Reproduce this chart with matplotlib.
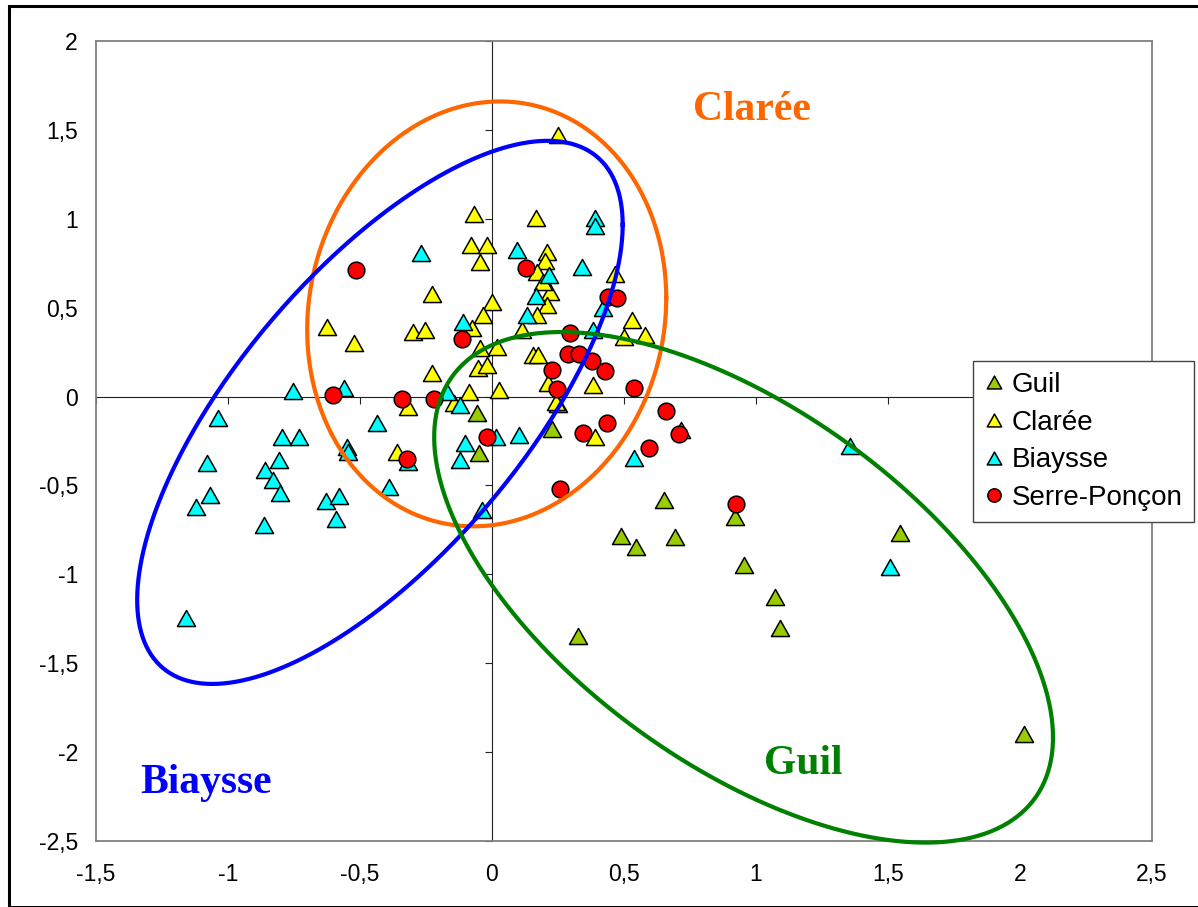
import numpy as np
import matplotlib.pyplot as plt
from matplotlib.path import Path
from matplotlib.patches import Rectangle

# coordonnées (axe 1, axe 2)
guil_x = [0.251, 0.226, -0.058, -0.05, 0.489, 0.545, 0.652, 0.693, 0.716, 0.920,
          0.955, 1.072, 1.091, 0.326, 1.545, 2.015]
guil_y = [-0.04, -0.18, -0.094, -0.32, -0.783, -0.845, -0.58, -0.79, -0.19, -0.68,
          -0.948, -1.13, -1.30, -1.346, -0.77, -1.9]

claree_x = [0.249, -0.067, 0.165, -0.080, -0.020, -0.045, 0.207, 0.20, 0.169, 0.22,
            0.194, 0.466, -0.226, 0.0, 0.207, 0.172, -0.035, 0.112, 0.529, 0.501,
            0.580, 0.018, 0.154, 0.176, 0.213, 0.384, 0.027, 0.242, 0.390, -0.626,
            -0.521, -0.298, -0.254, -0.077, -0.045, -0.052, -0.020, -0.226, -0.317,
            -0.143, -0.086, -0.361]
claree_y = [1.471, 1.025, 1.006, 0.853, 0.853, 0.759, 0.815, 0.76, 0.703, 0.59,
            0.646, 0.690, 0.575, 0.534, 0.515, 0.459, 0.459, 0.375, 0.431, 0.337,
            0.347, 0.281, 0.234, 0.234, 0.075, 0.065, 0.037, -0.029, -0.225, 0.393,
            0.30, 0.365, 0.375, 0.384, 0.272, 0.159, 0.178, 0.131, -0.057,
            -0.034, 0.028, -0.31]

biaysse_x = [-0.269, 0.390, 0.390, 0.096, 0.216, 0.340, 0.165, 0.131, 0.419, 0.381,
             0.104, 0.015, 0.538, -0.109, -0.753, -0.559, -0.169, -0.121, -0.437, -0.73,
             -0.548, -0.544, -0.102, -0.121, -1.039, -0.797, -1.081, -0.807, -0.860,
             -0.828, -0.803, -1.068, -1.122, -0.864, -1.159, -0.629, -0.58, -0.591,
             -0.39, -0.038, 1.356, 1.508, -0.317]
biaysse_y = [0.806, 1.006, 0.961, 0.825, 0.684, 0.731, 0.565, 0.459, 0.497, 0.375,
             -0.216, -0.225, -0.347, 0.421, 0.03, 0.047, 0.028, -0.047, -0.15, -0.225,
             -0.282, -0.31, -0.263, -0.357, -0.122, -0.225, -0.375, -0.357, -0.413,
             -0.469, -0.544, -0.553, -0.619, -0.722, -1.245, -0.59, -0.56, -0.69,
             -0.51, -0.64, -0.28, -0.96, -0.37]

serre_x = [-0.516, 0.128, 0.441, 0.472, 0.295, 0.289, 0.331, 0.380, 0.428, 0.226,
           0.245, 0.539, 0.659, 0.709, 0.434, 0.343, -0.020, 0.595, 0.258, 0.924,
           -0.113, -0.601, -0.342, -0.219, -0.321]
serre_y = [0.712, 0.722, 0.562, 0.553, 0.36, 0.238, 0.238, 0.20, 0.144, 0.15,
           0.041, 0.05, -0.081, -0.212, -0.147, -0.203, -0.225, -0.291, -0.52, -0.605,
           0.322, 0.009, -0.015, -0.015, -0.353]

# ellipses : centre et matrice (var x, var y, cov)
ell_claree = [(-0.02, 0.465), (0.68**2, 1.195**2, 0.06)]
ell_biaysse = [(-0.4245, -0.089), (0.9195**2, 1.5275**2, 0.97)]
ell_guil = [(0.953, -1.073), (1.172**2, 1.436**2, -0.99)]

xticks = [-1.5, -1, -0.5, 0, 0.5, 1, 1.5, 2, 2.5]
yticks = [-2.5, -2, -1.5, -1, -0.5, 0, 0.5, 1, 1.5, 2]


def fmt(v):
    s = ('%g' % v).replace('.', ',')
    return s


def ellipse_pts(center, cov):
    sxx, syy, sxy = cov
    L = np.linalg.cholesky(np.array([[sxx, sxy], [sxy, syy]]))
    t = np.linspace(0, 2 * np.pi, 400)
    pts = L @ np.vstack([np.cos(t), np.sin(t)])
    return pts[0] + center[0], pts[1] + center[1]


tri = Path([(0, 0.89), (-1, -0.89), (1, -0.89), (0, 0.89)],
           [Path.MOVETO, Path.LINETO, Path.LINETO, Path.CLOSEPOLY])

fig = plt.figure(figsize=(11.98, 9.07), dpi=100)
pos = [96 / 1198, 66 / 907, 1056 / 1198, 800 / 907]
ax = fig.add_axes(pos)
ax.set_xlim(-1.5, 2.5)
ax.set_ylim(-2.5, 2)
for sp in ax.spines.values():
    sp.set_color('#808080')
    sp.set_linewidth(1.3)
ax.set_xticks(xticks)
ax.set_yticks(yticks)
ax.set_xticklabels([fmt(v) for v in xticks])
ax.set_yticklabels([fmt(v) for v in yticks])
ax.tick_params(length=0, labelsize=16.5)
ax.tick_params(axis='x', pad=16)
ax.tick_params(axis='y', pad=13)
for lb in ax.get_xticklabels() + ax.get_yticklabels():
    lb.set_fontfamily('Liberation Sans')

# axes passant par l'origine
ax2 = fig.add_axes(pos, facecolor='none')
ax2.set_xlim(-1.5, 2.5)
ax2.set_ylim(-2.5, 2)
ax2.spines['top'].set_visible(False)
ax2.spines['right'].set_visible(False)
ax2.spines['left'].set_position(('data', 0))
ax2.spines['bottom'].set_position(('data', 0))
ax2.spines['left'].set_color('#222222')
ax2.spines['bottom'].set_color('#222222')
ax2.set_xticks(xticks)
ax2.set_yticks(yticks)
ax2.tick_params(direction='out', length=5, color='#222222',
                labelbottom=False, labelleft=False)
ax2.set_zorder(0)
ax.set_zorder(1)
ax.patch.set_visible(False)

ms_tri = 13
h1, = ax.plot(guil_x, guil_y, ls='none', marker=tri, ms=ms_tri, mfc='#99CC00',
              mec='black', mew=1.1, label='Guil', zorder=3)
h2, = ax.plot(claree_x, claree_y, ls='none', marker=tri, ms=ms_tri, mfc='#FFFF00',
              mec='black', mew=1.1, label='Clarée', zorder=4)
h3, = ax.plot(biaysse_x, biaysse_y, ls='none', marker=tri, ms=ms_tri, mfc='#00FFFF',
              mec='black', mew=1.1, label='Biaysse', zorder=5)
h4, = ax.plot(serre_x, serre_y, ls='none', marker='o', ms=12, mfc='#FF0000',
              mec='black', mew=1.1, label='Serre-Ponçon', zorder=6)

for (c, cov), col in [(ell_claree, '#FF6600'), (ell_biaysse, '#0000FF'),
                      (ell_guil, '#008000')]:
    ex, ey = ellipse_pts(c, cov)
    ax.plot(ex, ey, color=col, lw=3, zorder=7, clip_on=False)

tf = dict(fontfamily='Liberation Serif', fontweight='bold', fontsize=30,
          ha='center', va='center', zorder=8)
ax.text(0.985, 1.61, 'Clarée', color='#FF6600', **tf)
ax.text(-1.083, -2.175, 'Biaysse', color='#0000FF', **tf)
ax.text(1.18, -2.065, 'Guil', color='#008000', **tf)

leg = fig.legend(handles=[h1, h2, h3, h4], loc='upper left',
                 bbox_to_anchor=(973 / 1198, 1 - 361 / 907), fancybox=False,
                 framealpha=1, edgecolor='#444444', markerscale=0.8,
                 prop={'family': 'Liberation Sans', 'size': 20},
                 handlelength=0.7, handletextpad=0.3, labelspacing=0.42,
                 borderpad=0.4, borderaxespad=0)
leg.get_frame().set_linewidth(1.0)

# cadre du graphique
fig.patches.append(Rectangle((9 / 1198, 0), 1.1, 1 - 6 / 907, transform=fig.transFigure,
                             fill=False, edgecolor='black', lw=2.2, clip_on=False))

fig.savefig('out.png', dpi=100)
